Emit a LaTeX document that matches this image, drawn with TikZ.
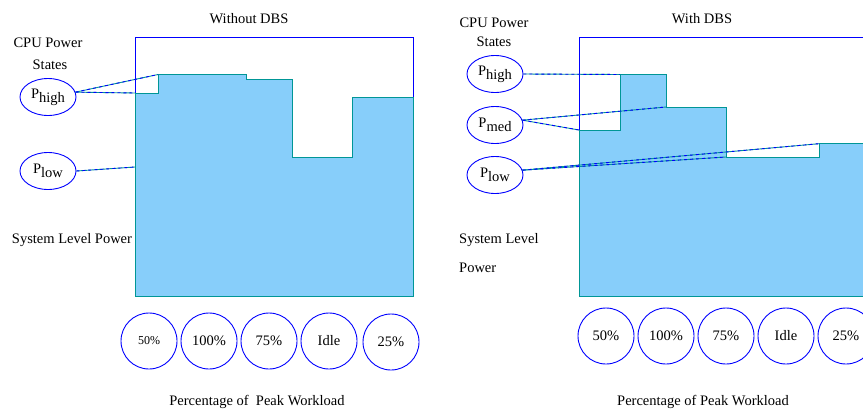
\documentclass[tikz,border=0pt]{standalone}
\usepackage{fontspec}
\setmainfont{Liberation Serif}
\usetikzlibrary{shapes.geometric}
\definecolor{skyfill}{RGB}{135,206,250}
\definecolor{stepline}{RGB}{0,150,150}
\newcommand{\psub}[1]{P\raisebox{-0.6ex}{#1}}

\begin{document}
\begin{tikzpicture}[x=1pt, y=-1pt, font=\fontsize{14.5}{16}\selectfont]
  \tikzset{
    frame/.style={draw=blue, line width=1pt},
    power/.style={draw=stepline, fill=skyfill, line width=0.9pt},
    state/.style={draw=blue, ellipse, line width=0.9pt, minimum width=56pt, minimum height=37pt, inner sep=0pt},
    load/.style={draw=blue, circle, line width=0.9pt, minimum size=56pt, inner sep=0pt},
    link/.style={draw=stepline, line width=0.9pt, postaction={draw=blue, dash pattern=on 3pt off 3pt}},
    txt/.style={inner sep=0pt}
  }
  \clip (0,0) rectangle (863,410);

  % Without DBS
  \node[txt] (titleA) at (249,19) {Without DBS};
  \draw[frame] (135,37) rectangle (413,296);
  \draw[power] (135,93) coordinate (a0) -- (158,93) -- (158,74.5) coordinate (a1)
    -- (246,74.5) -- (246,79) -- (292,79) -- (292,157) -- (352,157)
    -- (352,97.5) -- (413,97.5) -- (413,296) -- (135,296) -- cycle;
  \coordinate (a2) at (135,167);

  \node[txt] (cpuA) at (48,43) {CPU Power};
  \node[txt] (statesA) at (50,65) {States};
  \node[state] (highA) at (48,97) {\psub{high}};
  \node[state] (lowA) at (48,171) {\psub{low}};
  \draw[link] (highA.10) -- (a0);
  \draw[link] (highA.10) -- (a1);
  \draw[link] (lowA.east) -- (a2);

  \node[txt] (sysA) at (72,240) {System Level Power};

  \node[load, font=\fontsize{12}{14}\selectfont] (wa1) at (149,341) {50\%};
  \node[load] (wa2) at (209,341) {100\%};
  \node[load] (wa3) at (269,341) {75\%};
  \node[load] (wa4) at (329,341) {Idle};
  \node[load] (wa5) at (391,342) {25\%};
  \node[txt] (axisA) at (257,402) {Percentage of \ Peak Workload};

  % With DBS
  \node[txt] (titleB) at (702,19) {With DBS};
  \draw[frame] (579,37.5) rectangle (880,296);
  \draw[power] (579,130) coordinate (b2) -- (620,130) -- (620,74.5) coordinate (b0)
    -- (666,74.5) -- (666,107) coordinate (b1) -- (726,107) -- (726,157) coordinate (b3)
    -- (819,157) -- (819,143.7) coordinate (b4) -- (880,143.7) -- (880,296)
    -- (579,296) -- cycle;

  \node[txt] (cpuB) at (494,23) {CPU Power};
  \node[txt] (statesB) at (494,42) {States};
  \node[state] (highB) at (495,74) {\psub{high}};
  \node[state] (medB) at (495,125) {\psub{med}};
  \node[state] (lowB) at (495,175) {\psub{low}};
  \draw[link] (highB.east) -- (b0);
  \draw[link] (medB.10) -- (b1);
  \draw[link] (medB.10) -- (b2);
  \draw[link] (lowB.10) -- (b3);
  \draw[link] (lowB.10) -- (b4);

  \node[txt, anchor=west] (sysB) at (459,240) {System Level};
  \node[txt, anchor=west] (powB) at (459,268) {Power};

  \node[load] (wb1) at (606,336) {50\%};
  \node[load] (wb2) at (666,336) {100\%};
  \node[load] (wb3) at (726,336) {75\%};
  \node[load] (wb4) at (786,336) {Idle};
  \node[load] (wb5) at (846,336) {25\%};
  \node[txt] (axisB) at (703,402) {Percentage of Peak Workload};
\end{tikzpicture}
\end{document}
